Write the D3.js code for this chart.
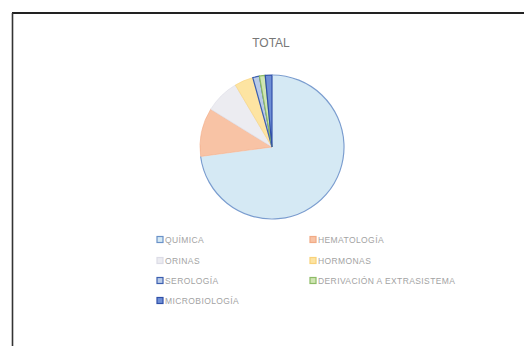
<!DOCTYPE html>
<html><head><meta charset="utf-8">
<script src="https://cdn.jsdelivr.net/npm/d3@7"></script>
<style>html,body{margin:0;padding:0;background:#fff;}svg{display:block;}</style>
</head><body>
<script>
const categories = ["QUÍMICA","HEMATOLOGÍA","ORINAS","HORMONAS","SEROLOGÍA","DERIVACIÓN A EXTRASISTEMA","MICROBIOLOGÍA"];
const values = [72.9, 10.9, 7.7, 4.2, 1.5, 1.3, 1.5];
const fills = ["#d5e9f4","#f8c3a5","#ececf1","#fde4a2","#b9cbe8","#cfe5b3","#6f8fd6"];
const strokes = ["#6a92c8","#f1ab86","#dcdce6","#f8d27a","#3c5fb0","#8dbb66","#2f4fa8"];
const title = "TOTAL";

const W = 524, H = 346;
const svg = d3.select("body").append("svg").attr("width", W).attr("height", H);

// frame (scanned border)
svg.append("line").attr("x1",12).attr("y1",13).attr("x2",W).attr("y2",13).attr("stroke","#222").attr("stroke-width",2);
svg.append("line").attr("x1",12.5).attr("y1",13).attr("x2",12.5).attr("y2",H).attr("stroke","#333").attr("stroke-width",1.6);

svg.append("text").attr("x",271).attr("y",47).attr("text-anchor","middle")
  .attr("font-family","Liberation Sans, Arial, sans-serif").attr("font-size",12)
  .attr("fill","#777").text(title);

const cx = 272, cy = 147, r = 72;
const pie = d3.pie().sort(null).value(d => d)(values);
const arc = d3.arc().innerRadius(0).outerRadius(r);
const g = svg.append("g").attr("transform",`translate(${cx},${cy})`);
g.selectAll("path").data(pie).join("path")
  .attr("d", arc)
  .attr("fill", (d,i) => fills[i])
  .attr("stroke", (d,i) => i === 0 ? "#fff" : strokes[i])
  .attr("stroke-width", (d,i) => i >= 4 ? 1.2 : 0.6);
// blue rim on the main slice
const rim = d3.arc().innerRadius(r-0.6).outerRadius(r+0.6);
g.append("path").datum(pie[0]).attr("d", rim).attr("fill", "#7a9dcf");

// legend
const colX = [157, 310], rowY = [240, 261, 281, 301];
const lg = svg.append("g");
categories.forEach((c, i) => {
  const x = colX[i % 2], y = rowY[Math.floor(i / 2)];
  lg.append("rect").attr("x", x).attr("y", y - 3.5).attr("width", 6).attr("height", 6)
    .attr("fill", fills[i]).attr("stroke", strokes[i]).attr("stroke-width", 1.2);
  lg.append("text").attr("x", x + 8).attr("y", y + 3)
    .attr("font-family","Liberation Sans, Arial, sans-serif").attr("font-size", 8.5)
    .attr("fill", "#a3a3a3").attr("letter-spacing", 0.4).text(c);
});
</script>
</body></html>
